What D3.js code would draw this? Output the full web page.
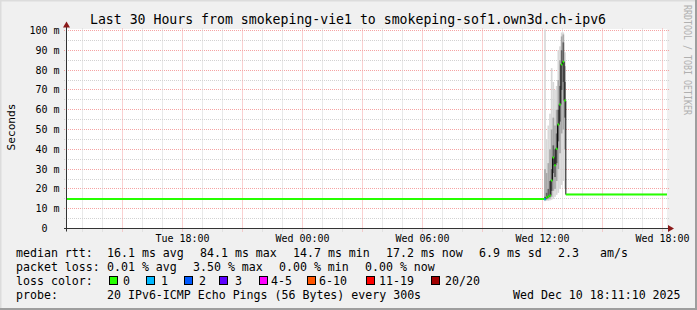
<!DOCTYPE html>
<html>
<head>
<meta charset="utf-8">
<script src="https://cdn.jsdelivr.net/npm/d3@7"></script>
<style>
  html, body { margin: 0; padding: 0; background: #f0f0f0; }
  svg { display: block; }
  text { font-family: 'DejaVu Sans Mono', monospace; white-space: pre; }
</style>
</head>
<body>
<div id="chart"></div>
<script>
/* smokeping style graph, 30 hours, redrawn with d3 */
const TITLE = 'Last 30 Hours from smokeping-vie1 to smokeping-sof1.own3d.ch-ipv6';
const Y_LABEL = 'Seconds';
const WATERMARK = 'RRDTOOL / TOBI OETIKER';
const TIME_START = '2025-12-09 12:13:30';
const TIME_END = '2025-12-10 18:13:30';

// median rtt in ms, value holds until the next time (300s steps in the spike)
const medianTimes = ['2025-12-09 12:13:30',
  '2025-12-10 12:05:00', '2025-12-10 12:10:00', '2025-12-10 12:15:00', '2025-12-10 12:20:00',
  '2025-12-10 12:25:00', '2025-12-10 12:30:00', '2025-12-10 12:35:00', '2025-12-10 12:40:00',
  '2025-12-10 12:45:00', '2025-12-10 12:50:00', '2025-12-10 12:55:00', '2025-12-10 13:00:00',
  '2025-12-10 13:05:00', '2025-12-10 13:10:00'];
const medianMs = [14.9, 14.8, 15.6, 16.2, 16.7, 24.2, 35.9, 32.0, 40.3, 52.5, 62.6, 82.8, 84.2, 64.6, 17.2];
const lostPings = [0, 1, 0, 0, 0, 0, 0, 0, 0, 0, 0, 0, 0, 0, 0];

// smoke (ping spread) for the spike steps 12:05 .. 13:05
const smokeTimes = medianTimes.slice(1, 14);
const smokeMin   = [13.8, 14.0, 14.0, 14.2, 14.5, 15, 16, 17, 18, 20, 22, 24, 20];
const smokeMidLo = [14.2, 14.5, 14.8, 15.0, 16.0, 19, 20, 24, 30, 38, 48, 50, 40];
const smokeInLo  = [14.5, 15.0, 15.5, 16.0, 19.0, 28, 26, 33, 44, 54, 70, 74, 56];
const smokeInHi  = [16.0, 18.0, 20.0, 24.0, 30.0, 42, 40, 48, 60, 72, 90, 94, 74];
const smokeMidHi = [30.0, 28.0, 33.0, 40.0, 50.0, 56, 52, 60, 75, 85, 97, 98, 82];
const smokeMax   = [105, 45, 52, 58, 81, 74, 70, 72, 90, 92, 99, 99, 89];

const yTicks = [0, 10, 20, 30, 40, 50, 60, 70, 80, 90, 100];
const lossLabels = ['0', '1', '2', '3', '4-5', '6-10', '11-19', '20/20'];
const lossColors = ['#26ff00', '#00b8ff', '#0059ff', '#5e00ff', '#ff00ff', '#ff5500', '#ff0000', '#a10000'];

const rttStats  = ['16.1 ms avg', '84.1 ms max', '14.7 ms min', '17.2 ms now', '6.9 ms sd', '2.3', 'am/s'];
const lossStats = ['0.01 % avg', '3.50 % max', '0.00 % min', '0.00 % now'];
const probeText = '20 IPv6-ICMP Echo Pings (56 Bytes) every 300s';
const stampText = 'Wed Dec 10 18:11:10 2025';

// layout (pixels)
const W = 697, H = 310;
const PX0 = 67, PX1 = 667, PY0 = 228.5, PY1 = 30.5;
const RTT_X = [107, 200, 293, 386, 479, 558, 600];
const LOSS_X = [107, 193, 279, 365];
const SWATCH_X = [109, 146, 184, 219, 259, 307, 366, 431];
const SWLABEL_X = [123, 161, 199, 235, 271, 319, 379, 445];
const ROW_Y = [257, 271, 285, 299];

const parse = d3.utcParse('%Y-%m-%d %H:%M:%S');
const t0 = parse(TIME_START), t1 = parse(TIME_END);
const mTimes = medianTimes.map(parse);
const sTimes = smokeTimes.map(parse);

const x = d3.scaleUtc().domain([t0, t1]).range([PX0, PX1]);
const y = d3.scaleLinear().domain([0, 100]).range([PY0, PY1]);
const px = v => Math.round(v - 0.5) + 0.5;

function lossBucket(n) {
  if (n <= 3) return n;
  if (n <= 5) return 4;
  if (n <= 10) return 5;
  if (n <= 19) return 6;
  return 7;
}

const svg = d3.select('#chart').append('svg').attr('width', W).attr('height', H);

// background + shaded frame
svg.append('rect').attr('width', W).attr('height', H).attr('fill', '#f0f0f0');
svg.append('path').attr('d', `M0,${H} V0 H${W}`).attr('fill', 'none')
  .attr('stroke', '#dcdcdc').attr('stroke-width', 3);
svg.append('path').attr('d', `M0,${H - 1} H${W - 1} V0`).attr('fill', 'none')
  .attr('stroke', '#9e9e9e').attr('stroke-width', 2);

// canvas
svg.append('rect').attr('x', PX0).attr('y', 29).attr('width', PX1 - PX0).attr('height', PY0 - 29)
  .attr('fill', '#fff');

// grid
const grid = svg.append('g').attr('stroke-dasharray', '1,1').attr('stroke-width', 1).attr('fill', 'none');
const minorY = d3.range(0, 101, 5);
grid.selectAll('.gy').data(minorY).join('line')
  .attr('x1', PX0 - 3).attr('x2', PX1 + 2)
  .attr('y1', d => px(y(d))).attr('y2', d => px(y(d)))
  .attr('stroke', d => d % 10 === 0 ? '#f5a3a3' : '#d2d2d2');
const hours = d3.utcHour.every(1).range(t0, t1);
grid.selectAll('.gx').data(hours).join('line')
  .attr('x1', d => px(x(d))).attr('x2', d => px(x(d)))
  .attr('y1', PY1 - 2).attr('y2', PY0 + 3)
  .attr('stroke', d => d.getUTCHours() % 3 === 0 ? '#f5a3a3' : '#d2d2d2');

// data layer, clipped to the canvas
svg.append('clipPath').attr('id', 'clip').append('rect')
  .attr('x', PX0).attr('y', PY1 - 1).attr('width', PX1 - PX0).attr('height', PY0 - PY1 + 1);
const plot = svg.append('g').attr('clip-path', 'url(#clip)');

const step = 5 * 60 * 1000;
const smokeLayers = [
  [smokeMin, smokeMax, '#d8d8d8'],
  [smokeMidLo, smokeMidHi, '#a8a8a8'],
  [smokeInLo, smokeInHi, '#606060']
];
smokeLayers.forEach(([lo, hi, col]) => {
  plot.append('g').selectAll('rect').data(sTimes).join('rect')
    .attr('x', d => x(d))
    .attr('width', d => x(new Date(+d + step)) - x(d))
    .attr('y', (d, i) => y(hi[i]))
    .attr('height', (d, i) => y(lo[i]) - y(hi[i]))
    .attr('fill', col);
});

const pts = mTimes.map((t, i) => ({ t, v: medianMs[i], loss: lostPings[i] }));
const linePts = pts.concat([{ t: t1, v: medianMs[medianMs.length - 1] }]);
plot.append('path').datum(linePts)
  .attr('fill', 'none').attr('stroke', '#111').attr('stroke-width', 1)
  .attr('d', d3.line().x(d => x(d.t)).y(d => y(d.v)).curve(d3.curveStepAfter));

plot.append('g').selectAll('line').data(pts).join('line')
  .attr('x1', d => x(d.t))
  .attr('x2', (d, i) => x(i + 1 < pts.length ? pts[i + 1].t : t1))
  .attr('y1', d => y(d.v)).attr('y2', d => y(d.v))
  .attr('stroke', d => lossColors[lossBucket(d.loss)])
  .attr('stroke-width', 2);

// axes
const axisCol = '#333';
svg.append('line').attr('x1', PX0 - 3).attr('x2', PX1 + 3).attr('y1', PY0).attr('y2', PY0)
  .attr('stroke', axisCol);
svg.append('line').attr('x1', PX0 - 0.5).attr('x2', PX0 - 0.5).attr('y1', PY0 + 3).attr('y2', PY1 - 4)
  .attr('stroke', axisCol);
svg.append('path').attr('d', `M${PX1 + 1},${PY0 - 3.5} L${PX1 + 7},${PY0} L${PX1 + 1},${PY0 + 3.5} Z`)
  .attr('fill', '#8b1a1a');
svg.append('path').attr('d', `M${PX0 - 4},${PY1 - 3} L${PX0 - 0.5},${PY1 - 9} L${PX0 + 3},${PY1 - 3} Z`)
  .attr('fill', '#8b1a1a');

// y tick labels
svg.append('g').selectAll('text').data(yTicks).join('text')
  .attr('x', 59.5).attr('y', d => px(y(d)) + 3.5)
  .attr('text-anchor', 'end').attr('font-size', '10px').attr('fill', '#000')
  .text(d => d === 0 ? '0  ' : `${d} m`);

// x tick labels every 6 hours
const fmt = d3.utcFormat('%a %H:%M');
svg.append('g').selectAll('text').data(d3.utcHour.every(6).range(t0, t1)).join('text')
  .attr('x', d => px(x(d))).attr('y', 242)
  .attr('text-anchor', 'middle').attr('font-size', '10px').attr('fill', '#000')
  .text(d => fmt(d));

// title, axis label, watermark
svg.append('text').attr('x', 348).attr('y', 24).attr('text-anchor', 'middle')
  .attr('font-size', '13.2px').attr('fill', '#000').text(TITLE);
svg.append('text').attr('transform', 'translate(15,127) rotate(-90)').attr('text-anchor', 'middle')
  .attr('font-size', '11.2px').attr('fill', '#000').text(Y_LABEL);
svg.append('text').attr('transform', 'translate(683.5,5) rotate(90)')
  .attr('font-size', '10.5px').attr('fill', '#b0b0b0')
  .attr('textLength', 110).attr('lengthAdjust', 'spacingAndGlyphs').text(WATERMARK);

// legend
const leg = svg.append('g').attr('font-size', '11.6px').attr('fill', '#000');
leg.append('text').attr('x', 16).attr('y', ROW_Y[0]).text('median rtt:');
rttStats.forEach((s, i) => leg.append('text').attr('x', RTT_X[i]).attr('y', ROW_Y[0]).text(s));
leg.append('text').attr('x', 16).attr('y', ROW_Y[1]).text('packet loss:');
lossStats.forEach((s, i) => leg.append('text').attr('x', LOSS_X[i]).attr('y', ROW_Y[1]).text(s));
leg.append('text').attr('x', 16).attr('y', ROW_Y[2]).text('loss color:');
lossLabels.forEach((s, i) => {
  leg.append('rect').attr('x', SWATCH_X[i] + 0.5).attr('y', ROW_Y[2] - 8.5)
    .attr('width', 8).attr('height', 8)
    .attr('fill', lossColors[i]).attr('stroke', '#000').attr('stroke-width', 1);
  leg.append('text').attr('x', SWLABEL_X[i]).attr('y', ROW_Y[2]).text(s);
});
leg.append('text').attr('x', 16).attr('y', ROW_Y[3]).text('probe:');
leg.append('text').attr('x', 107).attr('y', ROW_Y[3]).text(probeText);
leg.append('text').attr('x', 513).attr('y', ROW_Y[3]).text(stampText);
</script>
</body>
</html>
